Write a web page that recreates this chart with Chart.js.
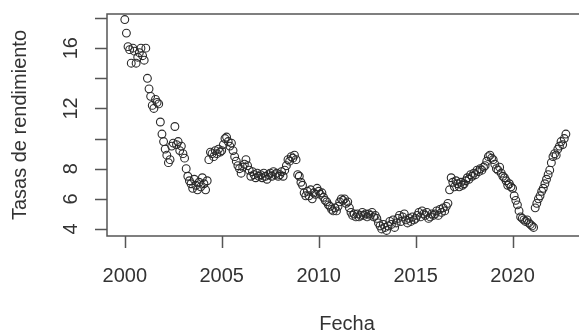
<!DOCTYPE html>
<html>
<head>
<meta charset="utf-8">
<script src="https://cdn.jsdelivr.net/npm/chart.js@4"></script>
<style>
  html, body { margin: 0; padding: 0; background: #fff; overflow: hidden; }
  #wrap { width: 579px; height: 333px; position: relative; }
</style>
</head>
<body>
<div id="wrap"><canvas id="chart"></canvas></div>
<script>
// Monthly rates, Jan 2000 - Oct 2022
const START_YEAR = 2000;
const rates = [
  // 2000
  17.9, 17.0, 16.1, 15.9, 15.0, 16.0, 15.8, 15.0, 15.4, 15.7, 16.0, 15.5,
  // 2001
  15.2, 16.0, 14.0, 13.3, 12.8, 12.2, 12.0, 12.6, 12.4, 12.3, 11.1, 10.3,
  // 2002
  9.8, 9.3, 8.9, 8.4, 8.6, 9.5, 9.7, 10.8, 9.6, 9.8, 9.2, 9.5,
  // 2003
  9.0, 8.7, 8.0, 7.5, 7.2, 7.0, 6.7, 7.3, 6.9, 6.6, 7.1, 6.8,
  // 2004
  7.4, 7.0, 6.6, 7.2, 8.6, 9.1, 9.0, 8.8, 9.2, 9.0, 9.3, 9.1,
  // 2005
  9.2, 9.6, 10.0, 10.1, 9.8, 9.5, 9.7, 9.2, 8.8, 8.5, 8.2, 8.0,
  // 2006
  7.7, 8.1, 8.3, 8.6, 8.2, 7.9, 7.5, 7.8, 7.6, 7.4, 7.7, 7.5,
  // 2007
  7.6, 7.4, 7.7, 7.5, 7.3, 7.6, 7.7, 7.5, 7.8, 7.6, 7.7, 7.5,
  // 2008
  7.6, 7.8, 7.5, 7.9, 8.2, 8.6, 8.5, 8.8, 8.7, 8.9, 8.6, 7.6,
  // 2009
  7.5, 7.1, 6.9, 6.4, 6.2, 6.5, 6.2, 6.6, 6.0, 6.4, 6.3, 6.7,
  // 2010
  6.5, 6.3, 6.4, 6.1, 5.9, 5.8, 5.6, 5.5, 5.3, 5.2, 5.4, 5.2,
  // 2011
  5.5, 5.8, 6.0, 5.9, 6.0, 5.7, 5.8, 5.4, 5.1, 4.9, 5.0, 4.8,
  // 2012
  5.0, 4.8, 4.9, 5.1, 4.9, 5.0, 4.8, 5.0, 4.9, 5.1, 4.8, 4.9,
  // 2013
  4.7, 4.4, 4.2, 4.0, 4.3, 4.1, 3.9, 4.2, 4.5, 4.3, 4.6, 4.1,
  // 2014
  4.4, 4.7, 4.9, 4.5, 4.8, 5.0, 4.6, 4.4, 4.7, 4.5, 4.8, 4.6,
  // 2015
  4.7, 4.9, 5.1, 4.8, 5.2, 5.0, 4.9, 5.1, 4.7, 4.8, 5.0, 4.9,
  // 2016
  5.0, 5.2, 4.9, 5.3, 5.1, 5.4, 5.2, 5.5, 5.7, 6.6, 7.4, 7.1,
  // 2017
  6.8, 7.2, 7.0, 6.8, 7.1, 6.9, 7.0, 7.2, 7.4, 7.3, 7.6, 7.5,
  // 2018
  7.7, 7.6, 7.9, 7.8, 8.0, 7.9, 8.1, 8.2, 8.5, 8.8, 8.9, 8.7,
  // 2019
  8.6, 8.3, 8.0, 7.9, 8.1, 7.7, 7.5, 7.4, 7.2, 6.9, 7.0, 6.8,
  // 2020
  6.7, 6.2, 5.9, 5.6, 5.2, 4.8, 4.7, 4.6, 4.5, 4.6, 4.4, 4.3,
  // 2021
  4.2, 4.1, 5.4, 5.7, 6.0, 6.2, 6.5, 6.7, 7.0, 7.3, 7.6, 7.9,
  // 2022
  8.4, 8.8, 9.0, 8.9, 9.3, 9.5, 9.8, 9.6, 10.0, 10.3
];
const xTicks = [2000, 2005, 2010, 2015, 2020];
const yTicks = [4, 6, 8, 10, 12, 14, 16, 18];
const yTickLabels = ["4", "6", "8", "", "12", "", "16", ""];
const xTitle = "Fecha";
const yTitle = "Tasas de rendimiento";

const points = rates.map((v, i) => ({ x: START_YEAR + i / 12, y: v }));

const FONT = "20px 'Liberation Sans', Arial, sans-serif";
const INK = "#333";
const AXIS = "#555";

// R-style box, ticks and labels drawn from the chart's own scales
const rAxes = {
  id: "rAxes",
  afterDraw(chart) {
    const { ctx, chartArea: a, scales: { x, y } } = chart;
    ctx.save();
    ctx.strokeStyle = AXIS;
    ctx.lineWidth = 1.5;
    ctx.strokeRect(a.left, a.top, a.right - a.left + 10, a.bottom - a.top);

    ctx.fillStyle = INK;
    ctx.font = FONT;

    // x axis
    ctx.beginPath();
    xTicks.forEach(t => {
      const px = Math.round(x.getPixelForValue(t)) + 0.5;
      ctx.moveTo(px, a.bottom); ctx.lineTo(px, a.bottom + 12);
    });
    ctx.stroke();
    ctx.textAlign = "center";
    ctx.textBaseline = "middle";
    xTicks.forEach(t => ctx.fillText(String(t), x.getPixelForValue(t), a.bottom + 40));
    ctx.fillText(xTitle, 347, 324);

    // y axis
    ctx.beginPath();
    yTicks.forEach(t => {
      const py = Math.round(y.getPixelForValue(t)) + 0.5;
      ctx.moveTo(a.left, py); ctx.lineTo(a.left - 12, py);
    });
    ctx.stroke();
    yTicks.forEach((t, i) => {
      if (!yTickLabels[i]) return;
      ctx.save();
      ctx.translate(a.left - 36, y.getPixelForValue(t));
      ctx.rotate(-Math.PI / 2);
      ctx.fillText(yTickLabels[i], 0, 0);
      ctx.restore();
    });
    ctx.save();
    ctx.translate(20, (a.top + a.bottom) / 2);
    ctx.rotate(-Math.PI / 2);
    ctx.fillText(yTitle, 0, 0);
    ctx.restore();
    ctx.restore();
  }
};

new Chart(document.getElementById("chart"), {
  type: "scatter",
  data: {
    datasets: [{
      data: points,
      pointStyle: "circle",
      pointRadius: 3.9,
      pointBorderWidth: 1.1,
      pointBorderColor: "#2a2a2a",
      pointBackgroundColor: "rgba(0,0,0,0)"
    }]
  },
  options: {
    responsive: true,
    maintainAspectRatio: false,
    animation: false,
    layout: { padding: { left: 107, top: 14, right: 0, bottom: 97 } },
    plugins: { legend: { display: false }, tooltip: { enabled: false } },
    scales: {
      x: { type: "linear", display: false, min: 1999.082, max: 2023.163 },
      y: { type: "linear", display: false, min: 3.533, max: 18.267 }
    }
  },
  plugins: [rAxes]
});
</script>
</body>
</html>
